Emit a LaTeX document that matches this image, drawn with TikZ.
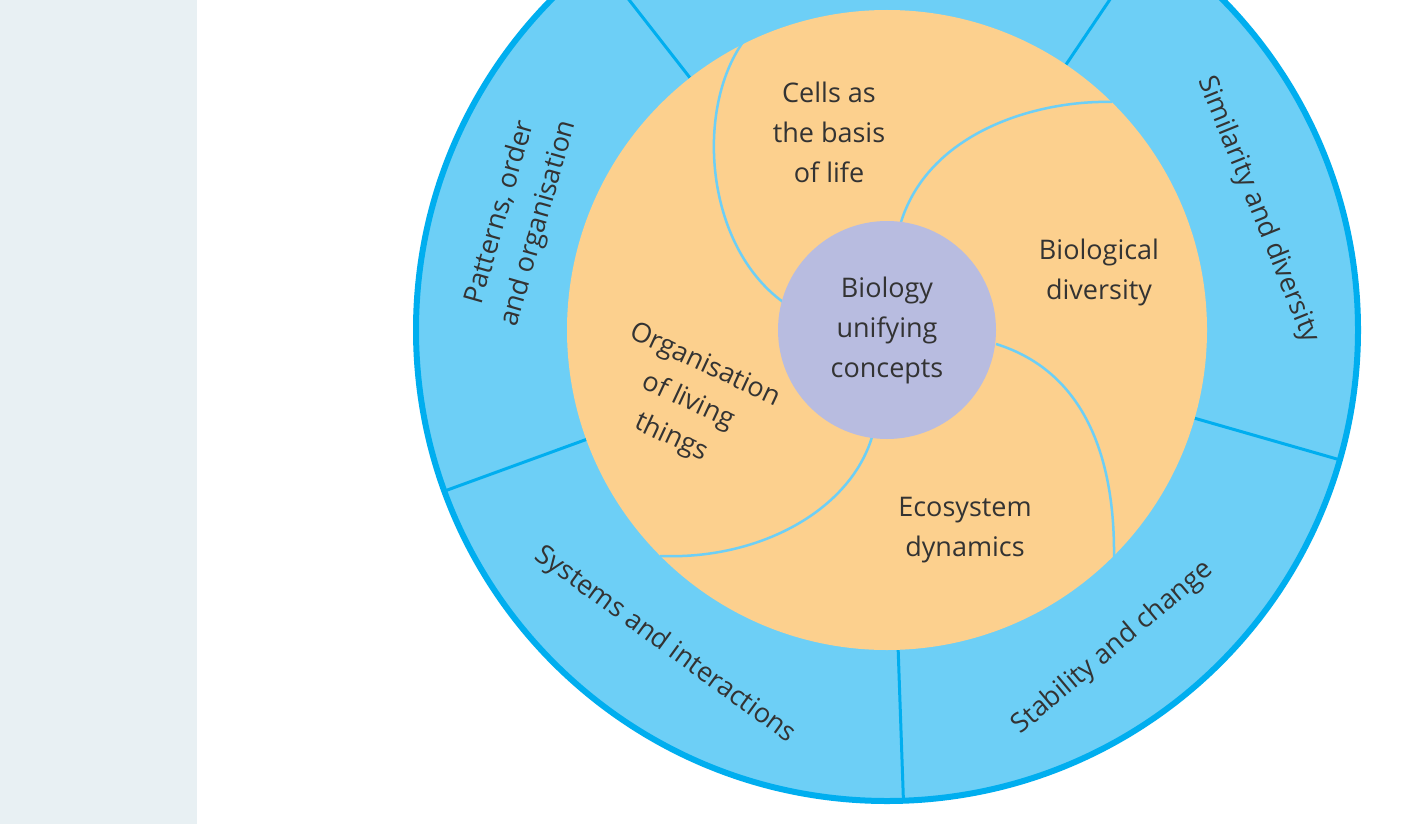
\documentclass[tikz,border=0pt]{standalone}
\usepackage{fontspec}
\setmainfont{Open Sans}
\definecolor{panel}{HTML}{E8F0F3}
\definecolor{ringb}{HTML}{00AEEF}
\definecolor{ringf}{HTML}{6DCFF6}
\definecolor{orng}{HTML}{FCD08E}
\definecolor{purp}{HTML}{B8BCE0}
\definecolor{txt}{HTML}{333333}
\begin{document}
\begin{tikzpicture}[x=1pt,y=-1pt,
  lbl/.style={font=\fontsize{27}{40}\selectfont,text=txt,align=center,inner sep=0pt},
  divider/.style={ringb,line width=3pt},
  spiral/.style={ringf,line width=2.5pt}]
\useasboundingbox (0,0) rectangle (1421,824);
\fill[white] (0,0) rectangle (1421,824);
\fill[panel] (0,0) rectangle (197,824);
\coordinate (c) at (887,330);
\begin{scope}
\clip (0,0) rectangle (1421,824);
\draw[ringb,fill=ringf,line width=6pt] (c) circle[radius=471];
\foreach \a in {-56,-128,-200,-272,-344}
  \draw[divider] ([shift={(887,330)}]\a:320) -- ([shift={(887,330)}]\a:471);
\fill[orng] (c) circle[radius=320];
\draw[spiral] (783,302) .. controls (705,245) and (695,110) .. (743,42);
\draw[spiral] (901,222) .. controls (930,130) and (1040,100) .. (1112,102);
\draw[spiral] (996,344) .. controls (1080,370) and (1115,450) .. (1114,557);
\draw[spiral] (872,437) .. controls (850,510) and (760,560) .. (660,556);
\node[circle,fill=purp,minimum size=218pt,inner sep=0pt] (core) at (c) {};
\end{scope}
\node[lbl] (bio) at (c) {Biology\\unifying\\concepts};
\node[lbl] (cells) at (829,132) {Cells as\\the basis\\of life};
\node[lbl] (div) at (1099,272) {Biological\\diversity};
\node[lbl] (eco) at (965,530) {Ecosystem\\dynamics};
\node[lbl,rotate=-25] (org) at (688,402) {Organisation\\of living\\things};
\node[lbl,rotate=74] (pat) at (520,218) {Patterns, order\\and organisation};
\node[lbl,rotate=-68] (sim) at (1258,210) {Similarity and diversity};
\node[lbl,rotate=-36] (sys) at (665,645) {Systems and interactions};
\node[lbl,rotate=40] (sta) at (1113,648) {Stability and change};
\end{tikzpicture}
\end{document}
